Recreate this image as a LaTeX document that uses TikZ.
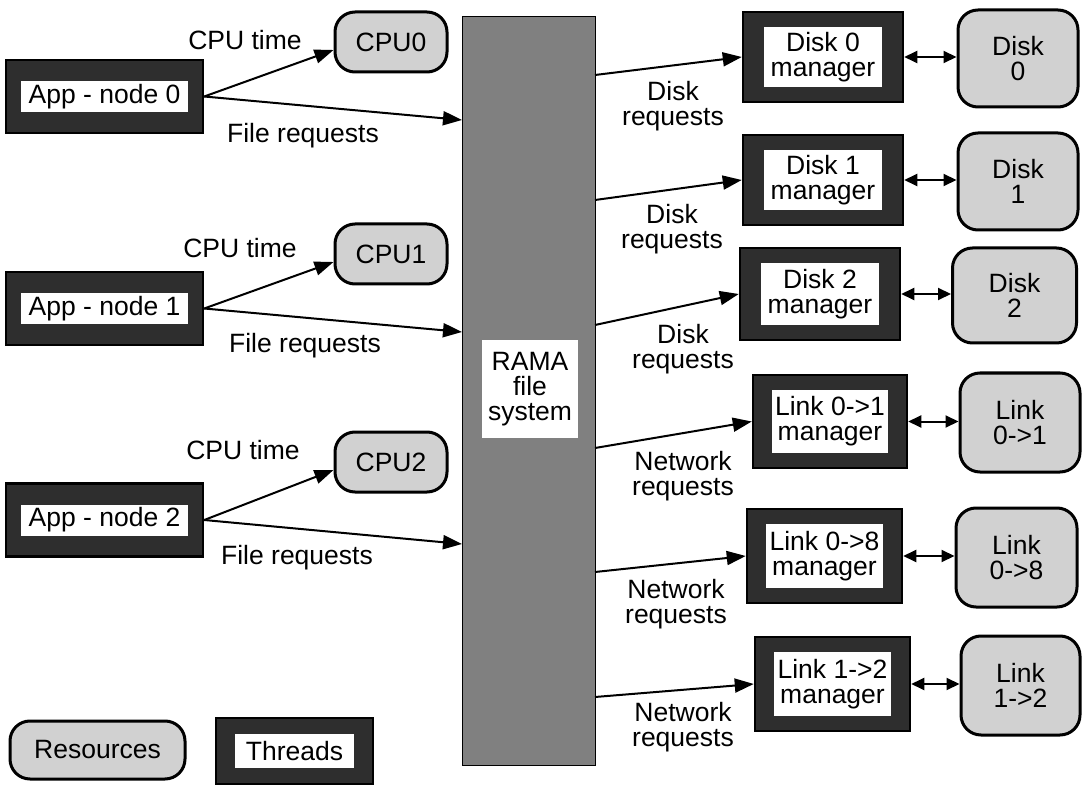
\documentclass[tikz,border=0pt]{standalone}
\usepackage{fontspec}
\setmainfont{Liberation Sans}
\usetikzlibrary{arrows.meta}
\newcommand\figfont{\fontsize{26.5}{25}\selectfont}

\tikzset{
  lbl/.style={font=\figfont, align=center, inner sep=0pt},
  % thread: black outline, dark frame, white inner field
  threadbox/.style n args={4}{draw=black, line width=2.5pt, fill=black!82,
    minimum width=#1, minimum height=#2, inner sep=0pt, align=center, font=\figfont,
    path picture={\fill[white]
      ([shift={(#3,-#4)}]path picture bounding box.north west) rectangle
      ([shift={(-#3,#4)}]path picture bounding box.south east);}},
  % resource: rounded light box
  resbox/.style 2 args={draw=black, line width=3pt, fill=black!18, rounded corners=20pt,
    minimum width=#1, minimum height=#2, inner sep=0pt, align=center, font=\figfont},
  flow/.style={line width=2pt, -{Triangle[length=19pt,width=14pt]}},
  duplex/.style={line width=2pt, {Triangle[length=13pt,width=12pt]}-{Triangle[length=13pt,width=12pt]}},
}

\begin{document}
\begin{tikzpicture}[x=1pt,y=-1pt]
\useasboundingbox (0,0) rectangle (1082,786);

% file system column
\node[draw=black, line width=1pt, fill=black!50, minimum width=133, minimum height=748, inner sep=0pt] (bar) at (528.5,391) {};
\node[fill=white, minimum width=96, minimum height=98, lbl] (rama) at (530,389) {RAMA\\file\\system};

% applications
\node[threadbox={197}{73}{15pt}{21pt}] (app0) at (104.5,96.5) {App - node 0};
\node[threadbox={197}{73}{15pt}{21pt}] (app1) at (104.5,308.5) {App - node 1};
\node[threadbox={197}{73}{15pt}{21pt}] (app2) at (104.5,520) {App - node 2};

% processors
\node[resbox={112}{60}] (cpu0) at (391,42) {CPU0};
\node[resbox={112}{60}] (cpu1) at (391,254) {CPU1};
\node[resbox={112}{60}] (cpu2) at (391,462) {CPU2};

% managers
\node[threadbox={160}{90}{21pt}{15pt}] (dm0) at (823,57) {Disk 0\\manager};
\node[threadbox={160}{90}{21pt}{15pt}] (dm1) at (823,180) {Disk 1\\manager};
\node[threadbox={160}{92}{21pt}{15pt}] (dm2) at (820,294) {Disk 2\\manager};
\node[threadbox={154}{93}{19pt}{15pt}] (lm01) at (830,421.5) {Link 0->1\\manager};
\node[threadbox={155}{94}{19pt}{15pt}] (lm08) at (824.5,556) {Link 0->8\\manager};
\node[threadbox={155}{94}{19pt}{15pt}] (lm12) at (832.5,684) {Link 1->2\\manager};

% devices
\node[resbox={120}{97}] (d0) at (1018,58.5) {Disk\\0};
\node[resbox={120}{97}] (d1) at (1018,181.5) {Disk\\1};
\node[resbox={124}{95}] (d2) at (1014.5,295.5) {Disk\\2};
\node[resbox={120}{99}] (l01) at (1020,422.5) {Link\\0->1};
\node[resbox={121}{99}] (l08) at (1016.5,557.5) {Link\\0->8};
\node[resbox={119}{99}] (l12) at (1020.5,685.5) {Link\\1->2};

% legend
\node[resbox={175}{58}] (legres) at (97.5,750) {Resources};
\node[threadbox={157}{66}{19pt}{16pt}] (legthr) at (294.5,751) {Threads};

% connector ends on the file system edges
\coordinate (fin0) at (462,120);
\coordinate (fin1) at (462,332);
\coordinate (fin2) at (462,544);
\coordinate (bo0) at (595,75);
\coordinate (bo1) at (595,200);
\coordinate (bo2) at (595,325);
\coordinate (bo3) at (595,448);
\coordinate (bo4) at (595,572);
\coordinate (bo5) at (595,697);

% application connectors
\draw[flow] (app0.east) -- ([yshift=-8pt]cpu0.west);
\draw[flow] (app1.east) -- ([yshift=-8pt]cpu1.west);
\draw[flow] (app2.east) -- ([yshift=-8pt]cpu2.west);
\draw[flow] (app0.east) -- (fin0);
\draw[flow] (app1.east) -- (fin1);
\draw[flow] (app2.east) -- (fin2);

% file system to managers
\draw[flow] (bo0) -- (dm0.west);
\draw[flow] (bo1) -- (dm1.west);
\draw[flow] (bo2) -- (dm2.west);
\draw[flow] (bo3) -- (lm01.west);
\draw[flow] (bo4) -- (lm08.west);
\draw[flow] (bo5) -- (lm12.west);

% managers to devices
\draw[duplex] (dm0.east) -- (dm0.east -| d0.west);
\draw[duplex] (dm1.east) -- (dm1.east -| d1.west);
\draw[duplex] (dm2.east) -- (dm2.east -| d2.west);
\draw[duplex] (lm01.east) -- (lm01.east -| l01.west);
\draw[duplex] (lm08.east) -- (lm08.east -| l08.west);
\draw[duplex] (lm12.east) -- (lm12.east -| l12.west);

% connector labels
\node[lbl] (ct0) at (245,40) {CPU time};
\node[lbl] (ct1) at (240,248) {CPU time};
\node[lbl] (ct2) at (243,450) {CPU time};
\node[lbl] (fr0) at (303,136) {File requests};
\node[lbl] (fr1) at (305,346) {File requests};
\node[lbl] (fr2) at (297,558) {File requests};
\node[lbl] (dr0) at (673,106) {Disk\\requests};
\node[lbl] (dr1) at (672,229) {Disk\\requests};
\node[lbl] (dr2) at (683,349) {Disk\\requests};
\node[lbl] (nr0) at (683,476) {Network\\requests};
\node[lbl] (nr1) at (676,604) {Network\\requests};
\node[lbl] (nr2) at (683,727) {Network\\requests};
\end{tikzpicture}
\end{document}
